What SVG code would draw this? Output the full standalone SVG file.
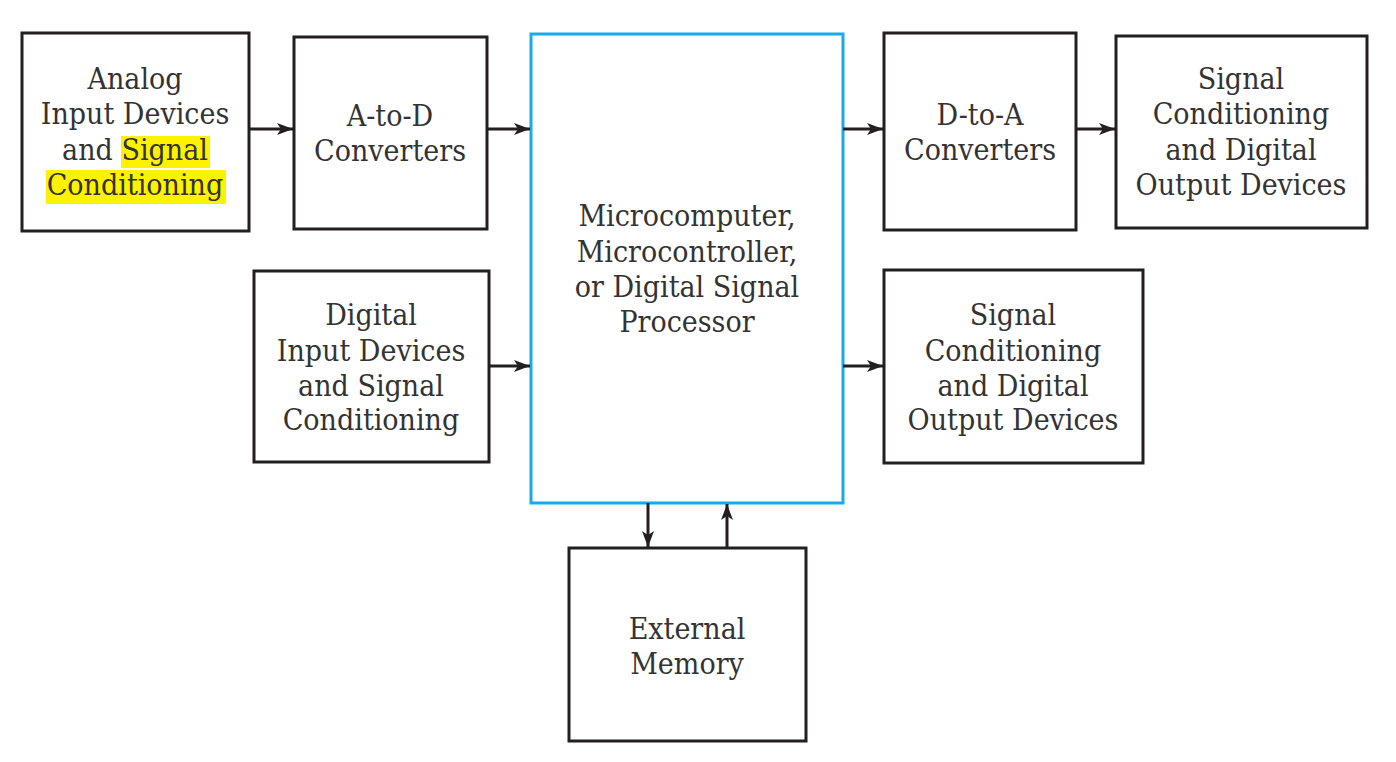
<svg xmlns="http://www.w3.org/2000/svg" width="1396" height="762" viewBox="0 0 1396 762">
<defs>
<marker id="ah" viewBox="0 0 16 12" refX="16" refY="6" markerWidth="16" markerHeight="12" markerUnits="userSpaceOnUse" orient="auto">
<path d="M0,0 L16,6 L0,12 L4,6 Z" fill="#231f20"/>
</marker>
<style>
.box{fill:#fff;stroke:#231f20;stroke-width:3}
.cpu{fill:#fff;stroke:#1aa9e6;stroke-width:3}
.t{font-family:'DejaVu Serif Condensed','DejaVu Serif','Liberation Serif',serif;font-stretch:condensed;font-size:30px;fill:#333;text-anchor:middle}
.c{stroke:#231f20;stroke-width:3;fill:none;marker-end:url(#ah)}
.hl{fill:#fff200}
</style>
</defs>
<rect width="1396" height="762" fill="#fff"/>
<g id="analog">
<rect class="box" x="22" y="33" width="227" height="198"/>
<rect class="hl" x="121" y="136" width="89" height="32"/>
<rect class="hl" x="46" y="170" width="180" height="34"/>
<text class="t"><tspan x="135" y="89">Analog</tspan><tspan x="135" y="124">Input Devices</tspan><tspan x="135" y="160">and Signal</tspan><tspan x="135" y="195">Conditioning</tspan></text>
</g>
<g id="atod">
<rect class="box" x="294" y="37" width="193" height="192"/>
<text class="t"><tspan x="390" y="126">A-to-D</tspan><tspan x="390" y="161">Converters</tspan></text>
</g>
<g id="cpu">
<rect class="cpu" x="531" y="34" width="312" height="469"/>
<text class="t"><tspan x="687" y="226">Microcomputer,</tspan><tspan x="687" y="262">Microcontroller,</tspan><tspan x="687" y="297">or Digital Signal</tspan><tspan x="687" y="332">Processor</tspan></text>
</g>
<g id="dtoa">
<rect class="box" x="884" y="33" width="192" height="197"/>
<text class="t"><tspan x="980" y="125">D-to-A</tspan><tspan x="980" y="160">Converters</tspan></text>
</g>
<g id="sc_top">
<rect class="box" x="1116" y="36" width="251" height="192"/>
<text class="t"><tspan x="1241" y="89">Signal</tspan><tspan x="1241" y="124">Conditioning</tspan><tspan x="1241" y="160">and Digital</tspan><tspan x="1241" y="195">Output Devices</tspan></text>
</g>
<g id="digital">
<rect class="box" x="254" y="271" width="235" height="191"/>
<text class="t"><tspan x="371" y="325">Digital</tspan><tspan x="371" y="361">Input Devices</tspan><tspan x="371" y="396">and Signal</tspan><tspan x="371" y="430">Conditioning</tspan></text>
</g>
<g id="sc_bottom">
<rect class="box" x="884" y="270" width="259" height="193"/>
<text class="t"><tspan x="1013" y="325">Signal</tspan><tspan x="1013" y="361">Conditioning</tspan><tspan x="1013" y="396">and Digital</tspan><tspan x="1013" y="430">Output Devices</tspan></text>
</g>
<g id="memory">
<rect class="box" x="569" y="548" width="237" height="193"/>
<text class="t"><tspan x="687" y="639">External</tspan><tspan x="687" y="674">Memory</tspan></text>
</g>
<g id="connectors">
<line class="c" x1="249" y1="129" x2="293" y2="129"/>
<line class="c" x1="487" y1="129" x2="530" y2="129"/>
<line class="c" x1="489" y1="366" x2="530" y2="366"/>
<line class="c" x1="843" y1="129" x2="883" y2="129"/>
<line class="c" x1="1076" y1="129" x2="1115" y2="129"/>
<line class="c" x1="843" y1="366" x2="883" y2="366"/>
<line class="c" x1="648" y1="503" x2="648" y2="547"/>
<line class="c" x1="727" y1="548" x2="727" y2="504"/>
</g>
</svg>
